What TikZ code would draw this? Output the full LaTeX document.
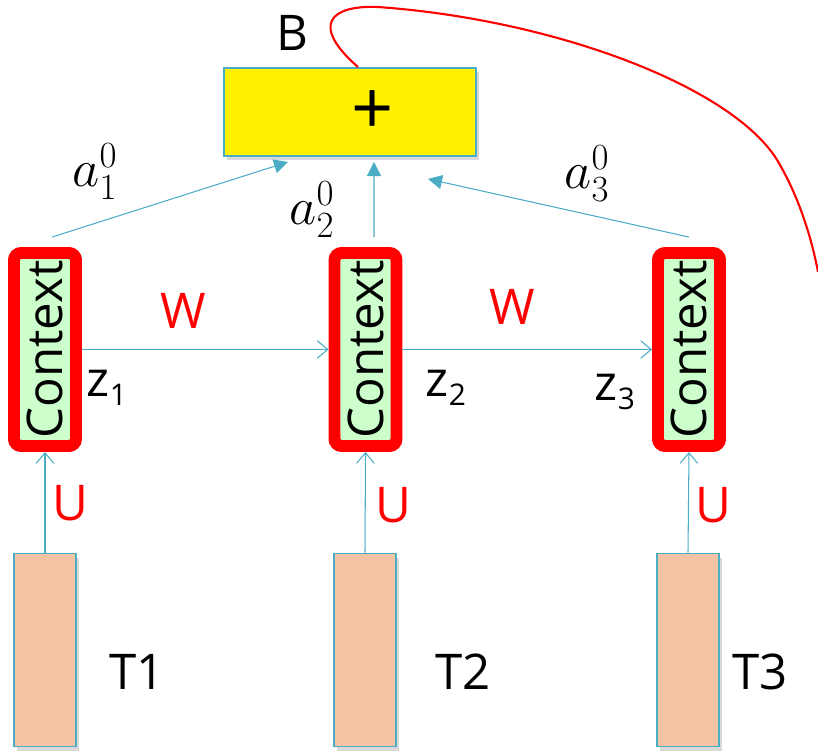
\RequirePackage{fix-cm}
\documentclass[tikz,border=0pt]{standalone}
\usepackage{fontspec}
\setmainfont{Open Sans}
\usetikzlibrary{arrows.meta,shadows}

\definecolor{linkblue}{HTML}{4BACC6}
\definecolor{ctxgreen}{HTML}{CCFFCC}
\definecolor{tokpeach}{HTML}{F4C3A3}

\newcommand{\lowsub}[1]{{\fontsize{17}{17}\selectfont\raisebox{-5pt}{#1}}}

\tikzset{
    softshadow/.style={drop shadow={opacity=0.3, shadow xshift=1.5pt, shadow yshift=-2.5pt}},
    ctxbox/.style={draw=red, line width=6.8pt, rounded corners=4pt, fill=ctxgreen,
        minimum width=1.24cm, minimum height=3.86cm, softshadow},
    tokbox/.style={draw=linkblue, line width=1.1pt, fill=tokpeach,
        minimum width=1.24cm, minimum height=3.86cm, softshadow},
    sumbox/.style={draw=linkblue, line width=1.1pt, fill=yellow,
        minimum width=5.04cm, minimum height=1.76cm, softshadow},
    big/.style={font=\fontsize{28}{30}\selectfont},
    weight/.style={big, text=red},
    mathlbl/.style={font=\fontsize{30}{32}\selectfont},
    plusmark/.style={font=\fontsize{42}{42}\selectfont},
    link/.style={draw=linkblue, line width=0.6pt},
    uplink/.style={link, -{Triangle[length=8pt,width=8pt]}},
    barb/.style={link, -{Straight Barb[length=6pt,width=10pt]}},
}

\begin{document}
\begin{tikzpicture}[x=0.02cm,y=-0.02cm]
    \useasboundingbox (0,0) rectangle (818,751);

    \node[sumbox] (sum) at (350,112) {};
    \node[plusmark] (plus) at (373,113) {+};
    \node[big] (blbl) at (292,33) {B};
    \draw[red, line width=1.2pt] ([xshift=0.16cm]sum.north) .. controls (310,25) and (330,5) .. (378,7)
        .. controls (560,20) and (740,90) .. (780,165) .. controls (800,200) and (812,240) .. (818,272);

    \node[ctxbox] (c1) at (45,349.5) {};
    \node[ctxbox] (c2) at (365.5,349.5) {};
    \node[ctxbox] (c3) at (689,349.5) {};
    \node[big, rotate=90] (c1txt) at (c1) {Context};
    \node[big, rotate=90] (c2txt) at (c2) {Context};
    \node[big, rotate=90] (c3txt) at (c3) {Context};

    \node[tokbox] (t1) at (45,650) {};
    \node[tokbox] (t2) at (365,650) {};
    \node[tokbox] (t3) at (688,650) {};
    \node[big] (t1lbl) at (137,672) {T1};
    \node[big] (t2lbl) at (463,672) {T2};
    \node[big] (t3lbl) at (760,672) {T3};

    \draw[barb] (t1.north) -- (c1.south);
    \draw[barb] (t2.north) -- (c2.south);
    \draw[barb] (t3.north) -- (c3.south);
    \node[weight] (u1) at (70,503) {U};
    \node[weight] (u2) at (393,505) {U};
    \node[weight] (u3) at (713,505) {U};

    \draw[barb] (c1.east) -- (c2.west);
    \draw[barb] (c2.east) -- (c3.west);
    \node[weight] (w1) at (183,311) {W};
    \node[weight] (w2) at (512,307) {W};
    \node[big] (z1) at (107,388) {z\lowsub{1}};
    \node[big] (z2) at (446,388) {z\lowsub{2}};
    \node[big] (z3) at (615,392) {z\lowsub{3}};

    \draw[uplink] ([xshift=0.14cm, yshift=0.2cm]c1.north) -- ([xshift=-1.24cm, yshift=-0.1cm]sum.south);
    \draw[uplink] ([xshift=0.17cm, yshift=0.2cm]c2.north) -- ([xshift=0.48cm, yshift=-0.1cm]sum.south);
    \draw[uplink] ([yshift=0.2cm]c3.north) -- ([xshift=1.56cm, yshift=-0.44cm]sum.south);
    \node[mathlbl] (a1) at (95,172) {$a_1^0$};
    \node[mathlbl] (a2) at (312,210) {$a_2^0$};
    \node[mathlbl] (a3) at (587,174) {$a_3^0$};
\end{tikzpicture}
\end{document}
